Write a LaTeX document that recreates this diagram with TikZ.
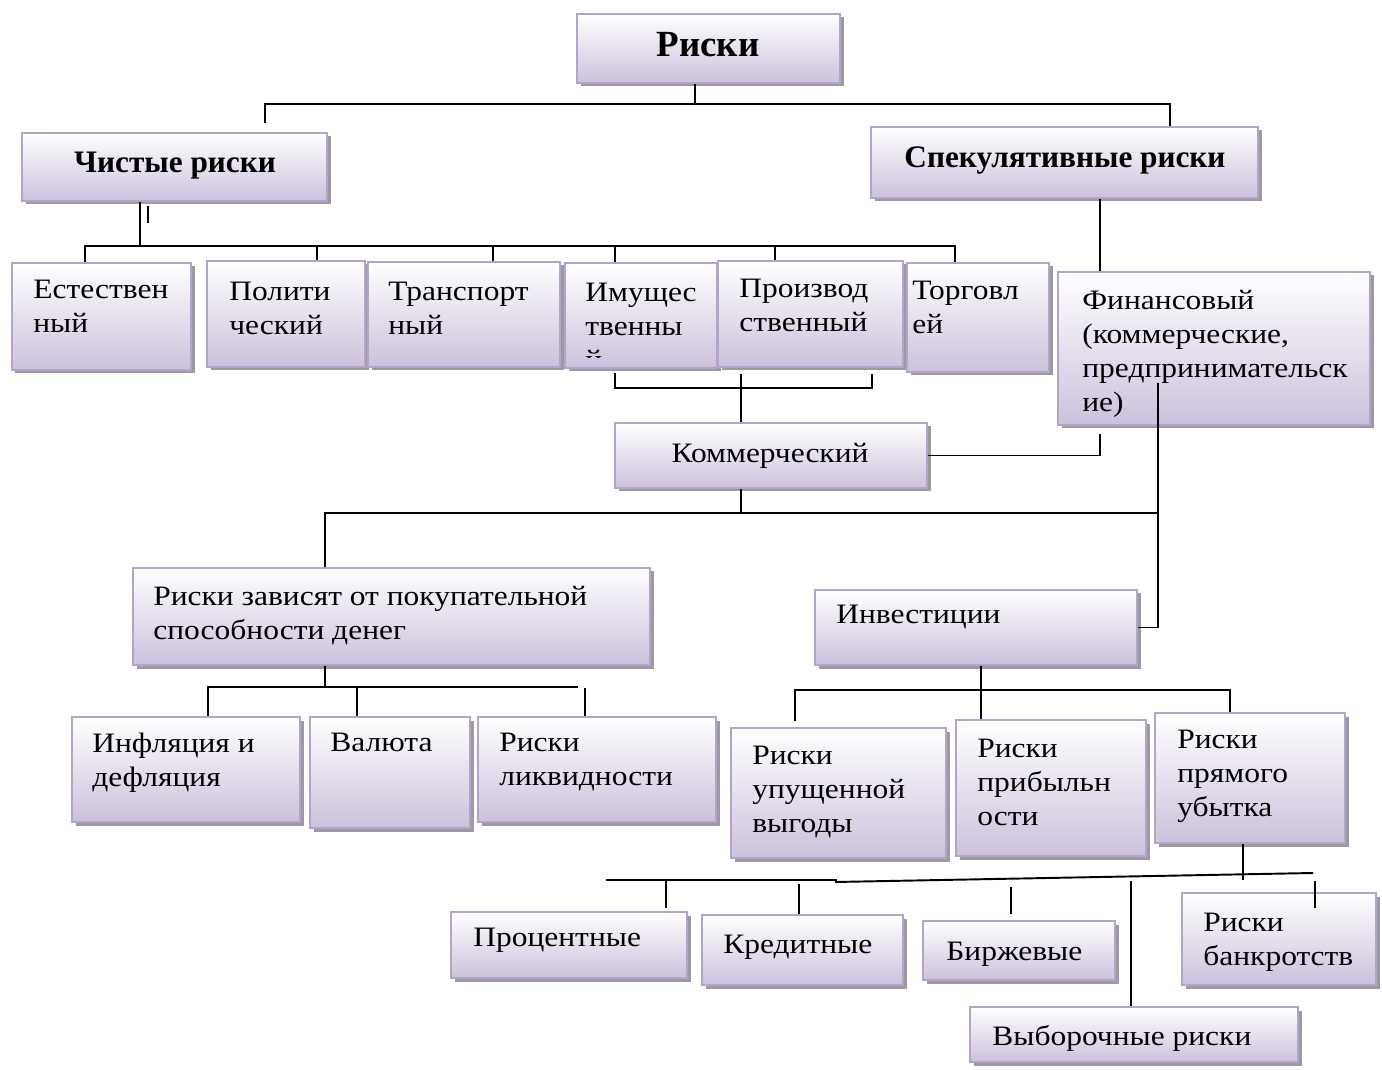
\documentclass[tikz,border=0pt]{standalone}
\usepackage{fontspec}
\setmainfont[FakeStretch=1.12]{Liberation Serif}
\newfontfamily\headfamily{Liberation Serif}
\usetikzlibrary{fit,shadows}

\definecolor{boxedge}{RGB}{180,164,202}
\definecolor{boxlow}{RGB}{204,193,220}
\definecolor{boxshade}{RGB}{156,153,163}

\newcommand{\boxfont}{\fontsize{16}{19.3}\selectfont}
\newcommand{\headfont}{\headfamily\fontsize{17.8}{22}\selectfont\bfseries}

\tikzset{
  riskbox/.style={draw=boxedge, line width=0.9pt, top color=white, bottom color=boxlow, inner sep=0pt,
    drop shadow={shadow xshift=0.07cm, shadow yshift=-0.07cm, fill=boxshade, opacity=1}},
  boxtext/.style={anchor=north west, align=left, inner sep=0pt, font=\boxfont},
  headtext/.style={anchor=base, inner sep=0pt, font=\headfont},
  link/.style={line width=1.1pt, black},
}

\begin{document}
\begin{tikzpicture}[x=0.02cm, y=-0.02cm]
\useasboundingbox (0,0) rectangle (1382,1070);

% boxes, top to bottom
\node[riskbox, fit={(577,14) (840,83)}] (riski) {};
\node[headtext, font=\headfamily\fontsize{21}{24}\selectfont\bfseries] (riski-t) at (708,57) {Риски};
\node[riskbox, fit={(22,133) (327,201)}] (chist) {};
\node[headtext] (chist-t) at (175,173) {Чистые риски};
\node[riskbox, fit={(871,127) (1258,198)}] (spek) {};
\node[headtext] (spek-t) at (1065,168) {Спекулятивные риски};

\node[riskbox, fit={(12,263) (191,370)}] (est) {};
\node[boxtext] (est-t) at (33,280) {Естествен\\ный};
\node[riskbox, fit={(207,261) (365,367)}] (pol) {};
\node[boxtext] (pol-t) at (229,282) {Полити\\ческий};
\node[riskbox, fit={(368,262) (560,367)}] (trans) {};
\node[boxtext] (trans-t) at (388,282) {Транспорт\\ный};
\node[riskbox, fit={(565,263) (717,368)}] (imush) {};
\begin{scope}
\clip (565,263) rectangle (717,358);
\node[boxtext] (imush-t) at (585,283) {Имущес\\твенны\\й};
\end{scope}
\node[riskbox, fit={(718,261) (903,367)}] (proizv) {};
\node[boxtext] (proizv-t) at (739,279) {Производ\\ственный};
\node[riskbox, fit={(907,263) (1049,372)}] (torg) {};
\node[boxtext] (torg-t) at (912,281) {Торговл\\ей};
\node[riskbox, fit={(1058,272) (1370,425)}] (fin) {};
\node[boxtext] (fin-t) at (1082,290) {Финансовый\\(коммерческие,\\предпринимательск\\ие)};

\node[riskbox, fit={(615,423) (927,488)}] (komm) {};
\node[anchor=base, inner sep=0pt, font=\boxfont] (komm-t) at (770,463) {Коммерческий};

\node[riskbox, fit={(133,568) (650,665)}] (zavis) {};
\node[boxtext] (zavis-t) at (153,586) {Риски зависят от покупательной\\способности денег};
\node[riskbox, fit={(815,590) (1137,665)}] (invest) {};
\node[boxtext] (invest-t) at (836,605) {Инвестиции};

\node[riskbox, fit={(72,717) (300,822)}] (infl) {};
\node[boxtext] (infl-t) at (92,733) {Инфляция и\\дефляция};
\node[riskbox, fit={(310,717) (470,828)}] (val) {};
\node[boxtext] (val-t) at (330,733) {Валюта};
\node[riskbox, fit={(478,717) (716,822)}] (likv) {};
\node[boxtext] (likv-t) at (499,733) {Риски\\ликвидности};

\node[riskbox, fit={(731,728) (946,858)}] (upusch) {};
\node[boxtext] (upusch-t) at (752,746) {Риски\\упущенной\\выгоды};
\node[riskbox, fit={(956,720) (1146,856)}] (pribyl) {};
\node[boxtext] (pribyl-t) at (977,739) {Риски\\прибыльн\\ости};
\node[riskbox, fit={(1155,713) (1345,843)}] (pryam) {};
\node[boxtext] (pryam-t) at (1177,730) {Риски\\прямого\\убытка};

\node[riskbox, fit={(451,912) (687,978)}] (proc) {};
\node[boxtext] (proc-t) at (473,928) {Процентные};
\node[riskbox, fit={(702,915) (903,985)}] (kred) {};
\node[boxtext] (kred-t) at (723,935) {Кредитные};
\node[riskbox, fit={(923,921) (1115,980)}] (birzh) {};
\node[boxtext] (birzh-t) at (946,942) {Биржевые};
\node[riskbox, fit={(1182,893) (1376,985)}] (bankr) {};
\node[boxtext] (bankr-t) at (1203,913) {Риски\\банкротств};
\node[riskbox, fit={(970,1007) (1298,1062)}] (vybor) {};
\node[boxtext] (vybor-t) at (992,1025) {Выборочные риски};

% connectors
\coordinate (j0) at (695,104);
\coordinate (jl) at (265,104);
\coordinate (jr) at (1170,104);
\draw[link] (riski.south -| j0) -- (j0);
\draw[link] (jl |- chist.north) ++(0,-9) -- (jl) -- (jr) -- (jr |- spek.north);

\coordinate (j1) at (140,246);
\coordinate (b2l) at (85,246);
\coordinate (b2r) at (955,246);
\draw[link] (chist.south -| j1) -- (j1);
\draw[link] (chist.south -| 148,0) ++(0,4) -- ++(0,17);
\draw[link] (b2l |- est.north) -- (b2l) -- (b2r) -- (b2r |- torg.north);
\foreach \n/\x in {pol/317, trans/493, imush/615, proizv/775}
  \draw[link] (\x,246) -- (\n.north -| \x,0);

\coordinate (b3l) at (615,388);
\coordinate (b3m) at (741,388);
\coordinate (b3r) at (872,388);
\draw[link] (b3l |- imush.south) ++(0,4) -- (b3l) -- (b3r) -- ++(0,-14);
\draw[link] (b3m |- proizv.south) ++(0,6) -- (komm.north -| b3m);

\coordinate (kf) at (1100,453);
\draw[link] (spek.south -| kf) -- (fin.north -| kf);
\draw[link] (fin.south -| kf) ++(0,8) -- (komm.east -| kf) -- (komm.east);

\coordinate (b4l) at (325,513);
\coordinate (b4r) at (1158,513);
\draw[link] (komm.south -| b3m) -- (b3m |- b4l);
\draw[link] (zavis.north -| b4l) -- (b4l) -- (b4r);
\draw[link] (fin.south -| b4r) ++(0,-43) -- (invest.east -| b4r) -- (invest.east);

\coordinate (b5) at (325,687);
\coordinate (b5l) at (208,687);
\coordinate (b5r) at (578,687);
\draw[link] (zavis.south -| b5) -- (b5);
\draw[link] (infl.north -| b5l) -- (b5l) -- (b5r);
\draw[link] (val.north -| 357,0) -- (357,687);
\draw[link] (likv.north -| 585,0) -- ++(0,-28);

\coordinate (b6) at (981,690);
\coordinate (b6l) at (795,690);
\coordinate (b6r) at (1230,690);
\draw[link] (invest.south -| b6) -- (pribyl.north -| b6);
\draw[link] (upusch.north -| b6l) ++(0,-6) -- (b6l) -- (b6r) -- (pryam.north -| b6r);

\coordinate (b7a) at (606,880);
\coordinate (b7b) at (837,880);
\coordinate (b7c) at (835,882);
\coordinate (b7d) at (1313,873);
\draw[link] (pryam.south -| 1243,0) -- ++(0,36);
\draw[link] (b7a) -- (b7b);
\draw[link] (b7c) -- (b7d);
\draw[link] (666,880) -- ++(0,28);
\draw[link] (799,884) -- (kred.north -| 799,0);
\draw[link] (birzh.north -| 1011,0) ++(0,-6) -- ++(0,-27);
\draw[link] (1131,881) -- (vybor.north -| 1131,0);
\draw[link] (1315,881) -- ++(0,27);
\end{tikzpicture}
\end{document}
